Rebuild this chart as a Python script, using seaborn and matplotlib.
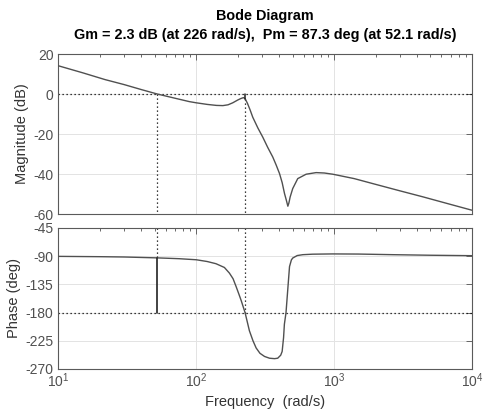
import numpy as np
import pandas as pd
import matplotlib
matplotlib.use("Agg")
import matplotlib.pyplot as plt
import matplotlib.ticker as mticker
import seaborn as sns

# ---- data ----
mag_freq = [10, 15, 21.8, 30, 40, 52.1, 70, 89, 100, 120, 140, 156, 170, 184, 200,
            210, 220, 226, 235, 246, 257, 280, 304, 330, 359, 380, 402, 420, 437, 450,
            462, 470, 480, 501, 545, 627, 741, 850, 978, 1400, 1910, 3000, 4400,
            7000, 10000]
mag_db = [14.1, 10.6, 7.2, 4.7, 2.2, 0.0, -2.1, -3.8, -4.4, -5.2, -5.7, -5.8, -5.4,
          -4.4, -3.0, -2.3, -1.8, -2.3, -4.6, -8.0, -11.6, -17.0, -21.6, -26.7, -31.5,
          -35.5, -39.8, -44.3, -49.8, -53.0, -56.1, -54.5, -51.5, -47.3, -42.3,
          -40.1, -39.3, -39.5, -40.1, -42.3, -44.8, -48.4, -51.4, -55.2, -58.1]

ph_freq = [10, 20, 30, 52.1, 75, 100, 120, 139, 160, 174, 185, 195, 205, 212, 226,
           243, 258, 272, 290, 313, 340, 370, 390, 410, 420, 430, 436, 448, 461,
           475, 490, 501, 540, 593, 700, 978, 1500, 2670, 5000, 10000]
ph_deg = [-90.3, -90.8, -91.3, -92.7, -94.0, -95.7, -98.5, -102, -108, -117, -126,
          -139, -152, -161, -180, -209, -225, -236.5, -245, -250, -252.8, -253.5,
          -252.8, -248, -242, -220, -198.5, -180, -144, -106.6, -96, -93, -89,
          -87.6, -86.8, -86.4, -86.6, -87.6, -88.5, -89.2]

gm_db, gm_freq = 2.3, 226
pm_deg, pm_freq = 87.3, 52.1

mag_ticks = [-60, -40, -20, 0, 20]
ph_ticks = [-270, -225, -180, -135, -90, -45]
title1 = "Bode Diagram"
title2 = "Gm = 2.3 dB (at 226 rad/s),  Pm = 87.3 deg (at 52.1 rad/s)"

# ---- style ----
sns.set_style("white")
plt.rcParams["font.family"] = ["Liberation Sans", "DejaVu Sans"]
plt.rcParams["mathtext.fontset"] = "custom"
plt.rcParams["mathtext.rm"] = "Liberation Sans"
plt.rcParams["mathtext.it"] = "Liberation Sans"
plt.rcParams["mathtext.default"] = "regular"
plt.rcParams["axes.unicode_minus"] = False

txt_c = "#505050"
line_c = "#505050"
grid_c = "#e3e3e3"

fig = plt.figure(figsize=(4.83, 4.11), dpi=100)
L, W = 0.121, 0.856
ax1 = fig.add_axes([L, 0.4793, W, 0.3893])
ax2 = fig.add_axes([L, 0.1022, W, 0.3431])

mag_df = pd.DataFrame({"freq": mag_freq, "mag": mag_db})
ph_df = pd.DataFrame({"freq": ph_freq, "phase": ph_deg})

sns.lineplot(data=mag_df, x="freq", y="mag", ax=ax1, color=line_c, lw=1.0,
             estimator=None, sort=False, zorder=3)
sns.lineplot(data=ph_df, x="freq", y="phase", ax=ax2, color=line_c, lw=1.0,
             estimator=None, sort=False, zorder=3)

dot = dict(color="black", lw=0.9, linestyle=(0, (1, 2.2)), zorder=2)
for ax in (ax1, ax2):
    ax.set_xscale("log")
    ax.set_xlim(10, 1e4)
    ax.grid(True, which="major", color=grid_c, lw=0.7)
    ax.tick_params(which="both", direction="in", top=True, right=True,
                   colors=txt_c, labelcolor=txt_c, labelsize=10)
    ax.tick_params(which="major", length=4, width=0.6)
    ax.tick_params(which="minor", length=2.5, width=0.6)
    ax.xaxis.set_minor_locator(mticker.LogLocator(base=10, subs=np.arange(2, 10)))
    for s in ax.spines.values():
        s.set_color("#5a5a5a")
        s.set_linewidth(0.8)
    ax.set_xlabel("")

# magnitude
ax1.set_ylim(-60, 20)
ax1.set_yticks(mag_ticks)
ax1.set_xticklabels([])
ax1.tick_params(axis="x", which="both", labelbottom=False)
ax1.axhline(0, **dot)
ax1.plot([pm_freq, pm_freq], [0, -60], **dot)
ax1.plot([gm_freq, gm_freq], [-gm_db, -60], **dot)
ax1.plot([gm_freq, gm_freq], [0, -gm_db], color="#222222", lw=1.1, zorder=4)
ax1.set_ylabel("Magnitude (dB)", fontsize=10.5, color="#333333", labelpad=3)

# phase
ax2.set_ylim(-270, -45)
ax2.set_yticks(ph_ticks)
ax2.xaxis.set_major_locator(mticker.LogLocator(base=10, numticks=10))
ax2.xaxis.set_major_formatter(mticker.LogFormatterMathtext())
ax2.axhline(-180, **dot)
ax2.plot([pm_freq, pm_freq], [-45, -180 + pm_deg], **dot)
ax2.plot([gm_freq, gm_freq], [-45, -180], **dot)
ax2.plot([pm_freq, pm_freq], [-180 + pm_deg, -180], color="#222222", lw=1.2, zorder=4)
ax2.set_ylabel("Phase (deg)", fontsize=10.5, color="#333333", labelpad=3)
ax2.set_xlabel("Frequency  (rad/s)", fontsize=10.5, color="#333333", labelpad=3)
ax2.tick_params(axis="x", pad=2)

fig.text(L + W / 2, 0.960, title1, ha="center", va="center", fontsize=10.4,
         fontweight="bold", color="black")
fig.text(L + W / 2, 0.916, title2, ha="center", va="center", fontsize=10.4,
         fontweight="bold", color="black")

fig.savefig("out.png", dpi=100)
